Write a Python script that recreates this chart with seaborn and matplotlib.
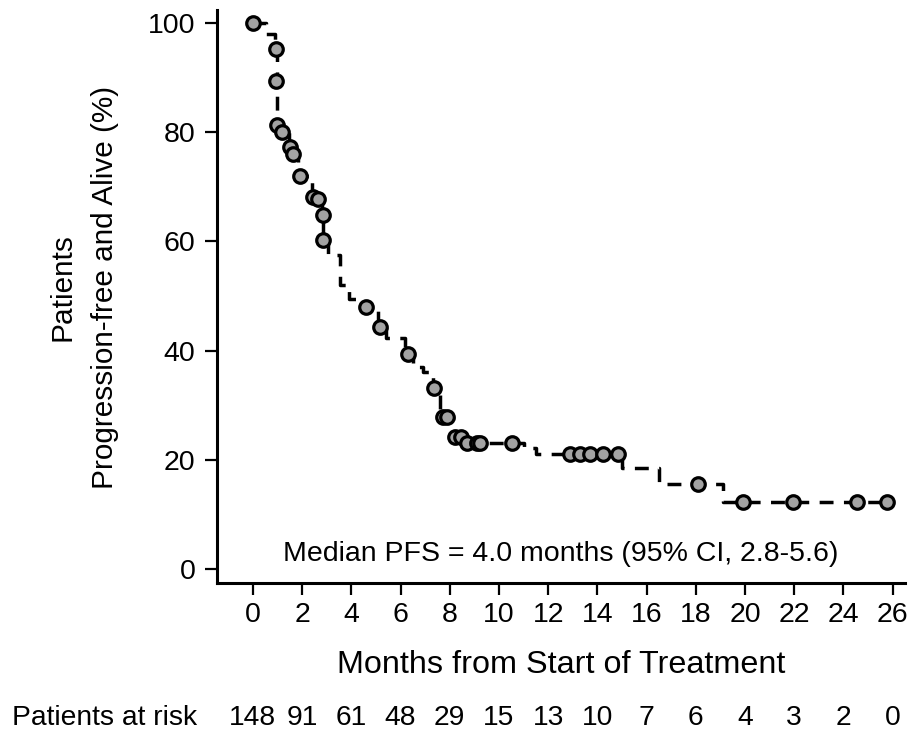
import matplotlib
matplotlib.use("Agg")
import matplotlib.pyplot as plt
import matplotlib.transforms as mtransforms
import pandas as pd
import seaborn as sns

# Kaplan-Meier step curve: progression-free and alive (%) by month
step_months = [0, 0.55, 0.9, 0.96, 1.15, 1.45, 1.6, 1.85, 2.4, 2.8, 2.85, 3.05,
               3.55, 3.9, 4.5, 5.1, 5.4, 6.2, 6.5, 6.9, 7.3, 7.6, 8.15, 8.6,
               11.0, 11.5, 15.0, 16.5, 19.1, 25.8]
step_pfs = [100, 98, 95.2, 81.3, 80, 77.3, 76, 72, 68.1, 64.8, 60.3, 57.5,
            52, 49.5, 48, 44.3, 42.3, 39.4, 37, 36, 33.2, 27.8, 24.2, 23.0,
            22.2, 21.0, 18.5, 15.5, 12.3, 12.3]

# Censoring marks
censor_months = [0, 0.93, 0.93, 0.98, 1.18, 1.5, 1.63, 1.91, 2.44, 2.64, 2.85,
                 2.85, 4.59, 5.16, 6.3, 7.36, 7.72, 7.89, 8.2, 8.45, 8.7, 9.11,
                 9.23, 10.53, 12.89, 13.29, 13.7, 14.23, 14.84, 18.09, 19.92,
                 21.95, 24.55, 25.77]
censor_pfs = [100, 95.2, 89.4, 81.3, 80, 77.3, 76, 72, 68.1, 67.8, 64.8,
              60.3, 48, 44.3, 39.4, 33.2, 27.8, 27.8, 24.2, 24.2, 23, 23,
              23, 23, 21, 21, 21, 21, 21, 15.5, 12.3,
              12.3, 12.3, 12.3]

tick_months = list(range(0, 27, 2))
at_risk = [148, 91, 61, 48, 29, 15, 13, 10, 7, 6, 4, 3, 2, 0]
pfs_ticks = [0, 20, 40, 60, 80, 100]

sns.set_theme(style="ticks")
plt.rcParams["font.family"] = ["Liberation Sans", "DejaVu Sans"]
plt.rcParams["text.color"] = "black"

fig = plt.figure(figsize=(9.1, 7.37), dpi=100)
ax = fig.add_axes([217 / 910, 1 - 583 / 737, (905 - 217) / 910, (583 - 10) / 737])

curve = pd.DataFrame({"months": step_months, "pfs": step_pfs})
marks = pd.DataFrame({"months": censor_months, "pfs": censor_pfs})

sns.lineplot(data=curve, x="months", y="pfs", ax=ax, estimator=None, sort=False,
             drawstyle="steps-post", color="black", linewidth=2.5,
             linestyle=(0, (4, 3)))
sns.scatterplot(data=marks, x="months", y="pfs", ax=ax, s=95, color="#a3a3a3",
                edgecolor="black", linewidth=2.3, zorder=3)

ax.set_xlim(-1.46, 26.5)
ax.set_ylim(-2.56, 102.4)
ax.set_xticks(tick_months)
ax.set_yticks(pfs_ticks)

sns.despine(ax=ax)
for side in ("left", "bottom"):
    ax.spines[side].set_linewidth(2.2)
    ax.spines[side].set_color("black")

ax.tick_params(axis="both", which="major", length=8.5, width=1.6, color="black",
               labelcolor="black", labelsize=20.5, direction="out")
ax.tick_params(axis="x", pad=5)
ax.tick_params(axis="y", pad=7)

ax.set_xlabel("Months from Start of Treatment", fontsize=23.3, color="black")
ax.xaxis.set_label_coords(0.5, (583 - 665) / 573)
ax.xaxis.label.set_verticalalignment("center")

ax.set_ylabel("Patients\nProgression-free and Alive (%)", fontsize=21.4,
              color="black", linespacing=1.65, multialignment="center")
ax.yaxis.set_label_coords((84 - 217) / 688, (583 - 287) / 573)
ax.yaxis.label.set_verticalalignment("center")

ax.text(12.52, 2.75, "Median PFS = 4.0 months (95% CI, 2.8-5.6)", ha="center",
        va="center", fontsize=20.5, color="black")

# Number-at-risk table under the axis
row_y = 1 - 718 / 737
fig.text(12 / 910, row_y, "Patients at risk", ha="left", va="center",
         fontsize=20.3, color="black")
risk_tr = mtransforms.blended_transform_factory(ax.transData, fig.transFigure)
for m, n in zip(tick_months, at_risk):
    ax.text(m, row_y, str(n), transform=risk_tr, ha="center", va="center",
            fontsize=20.3, color="black")

fig.savefig("out.png", dpi=100)
